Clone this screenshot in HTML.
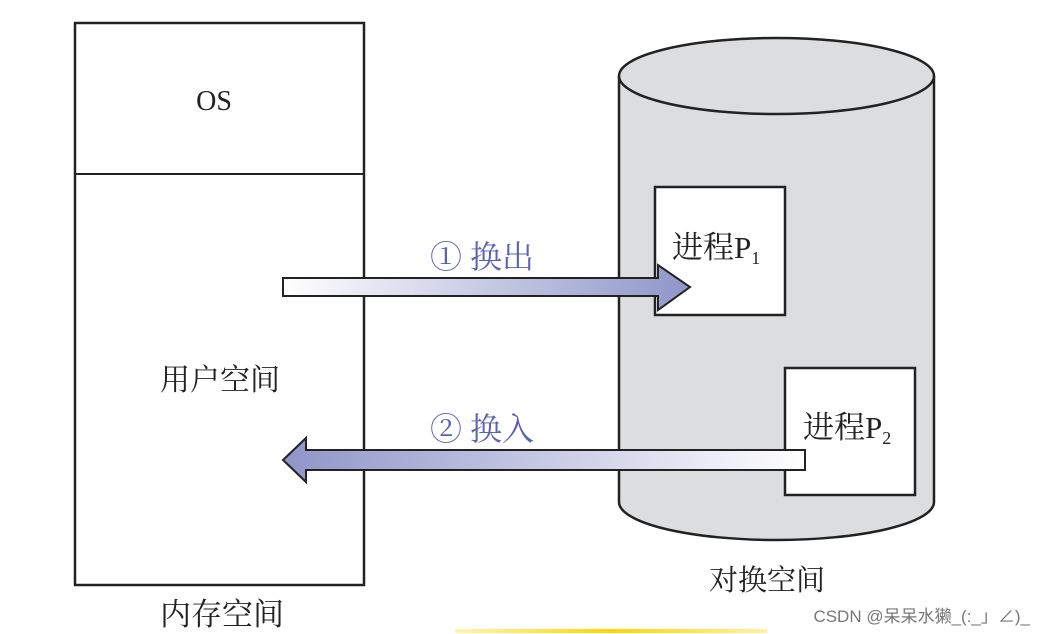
<!DOCTYPE html>
<html><head><meta charset="utf-8"><style>
body{margin:0;background:#fff;}
svg{display:block;font-family:"Liberation Serif","Noto Serif CJK SC",serif;}
</style></head><body>
<svg width="1046" height="634" viewBox="0 0 1046 634" xmlns="http://www.w3.org/2000/svg">
<defs>
<linearGradient id="g1" x1="0" x2="1" y1="0" y2="0"><stop offset="0" stop-color="#ffffff"/><stop offset="1" stop-color="#8f95c9"/></linearGradient>
<linearGradient id="g2" x1="1" x2="0" y1="0" y2="0"><stop offset="0" stop-color="#ffffff"/><stop offset="1" stop-color="#8f95c9"/></linearGradient>
<linearGradient id="gy" x1="0" x2="1"><stop offset="0" stop-color="#fff5b0"/><stop offset="0.5" stop-color="#ffd400"/><stop offset="1" stop-color="#fff2a0"/></linearGradient>
</defs>
<rect x="75" y="23" width="289" height="562" fill="#fff" stroke="#222" stroke-width="2.5"/>
<line x1="75" y1="174" x2="364" y2="174" stroke="#222" stroke-width="2"/>
<text x="214" y="110" font-size="28" text-anchor="middle" fill="#222">OS</text>
<text x="220" y="390" font-size="30" text-anchor="middle" fill="#222">用户空间</text>
<text x="222" y="625" font-size="31" text-anchor="middle" fill="#222">内存空间</text>
<path d="M619 76 L619 502 A157.5 38 0 0 0 934 502 L934 76" fill="#dcdddf" stroke="#222" stroke-width="2.5"/>
<ellipse cx="776.5" cy="76" rx="157.5" ry="38" fill="#dcdddf" stroke="#222" stroke-width="2.5"/>
<text x="767" y="590" font-size="29" text-anchor="middle" fill="#222">对换空间</text>
<rect x="655" y="187" width="130" height="128" fill="#fff" stroke="#222" stroke-width="2.5"/>
<text x="672" y="258" font-size="31" fill="#222">进程P<tspan font-size="18" dy="6">1</tspan></text>
<rect x="785" y="368" width="130" height="127" fill="#fff" stroke="#222" stroke-width="2.5"/>
<text x="803" y="438" font-size="31" fill="#222">进程P<tspan font-size="18" dy="6">2</tspan></text>
<path d="M283 278 L658 278 L658 265 L690 287 L658 310 L658 296 L283 296 Z" fill="url(#g1)" stroke="#222" stroke-width="2"/>
<text x="430" y="268" font-size="32" fill="#5a63b0">① 换出</text>
<path d="M805 450 L306 450 L306 438 L283 460 L306 482 L306 470 L805 470 Z" fill="url(#g2)" stroke="#222" stroke-width="2"/>
<text x="430" y="440" font-size="32" fill="#5a63b0">② 换入</text>
<text x="1030" y="622" font-size="17" text-anchor="end" fill="#777" font-family="Liberation Sans,Noto Sans CJK SC,sans-serif">CSDN @呆呆水獭_(:_」∠)_</text>
<rect x="455" y="629" width="312" height="4" fill="url(#gy)"/>
</svg>
</body></html>
